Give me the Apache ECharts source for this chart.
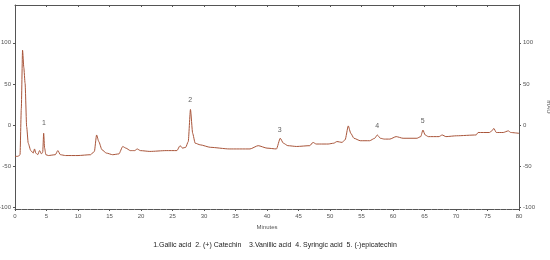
<!DOCTYPE html>
<html><head><meta charset="utf-8">
<script src="https://cdn.jsdelivr.net/npm/echarts@6/dist/echarts.min.js"></script>
<style>html,body{margin:0;padding:0;background:#fff}#c{width:550px;height:260px}</style>
</head><body><div id="c"></div>
<script>
// retention time (minutes)
const times = [
  0, 0.5, 0.8, 1.0, 1.2, 1.4, 1.6, 1.85, 2.1, 2.5,
  2.9, 3.1, 3.3, 3.6, 3.9, 4.2, 4.4, 4.55, 4.7, 4.9,
  5.3, 6.4, 6.8, 7.2, 8, 10, 12, 12.6, 12.95, 13.3,
  13.8, 14.5, 15.5, 16.5, 17.1, 17.6, 18.3, 19.0, 19.4, 19.9,
  21.4, 24, 25.7, 26.2, 26.6, 27.1, 27.5, 27.85, 28.2, 28.6,
  29.4, 31, 34, 37.3, 38.6, 40, 41.5, 42.1, 42.6, 43.3,
  44.7, 46.8, 47.3, 47.8, 48.4, 49.7, 50.6, 51.1, 51.9, 52.4,
  52.9, 53.3, 53.8, 54.8, 56.3, 57.1, 57.5, 58.0, 58.6, 59.5,
  60.5, 61.6, 63.8, 64.4, 64.75, 65.1, 65.6, 67.3, 67.8, 68.4,
  70.1, 73.2, 73.5, 75.3, 75.7, 76.0, 76.4, 77.5, 78.3, 78.7,
  80
];
// absorbance (mAU)
const absorbance = [
  -38, -38, -36, 20, 91, 70, 51, -2, -22, -31,
  -34, -29, -34, -36, -31, -35, -33, -10, -28, -36,
  -37, -36, -31, -36, -37, -37, -36, -32, -12, -20,
  -30, -34, -36, -35, -26, -28, -31, -31, -29, -31,
  -32, -31, -31, -25, -28, -27, -20, 19, -10, -22,
  -24, -27, -29, -29, -25, -28, -29, -16, -22, -25,
  -26, -25, -21, -23, -23, -23, -22, -20, -21, -18,
  -1, -10, -16, -19, -19, -16, -12, -16, -17, -17,
  -14, -16, -16, -14, -6, -12, -14, -14, -12, -14,
  -13, -12, -9, -9, -7, -4, -9, -9, -7, -9,
  -10
];
// peak annotations
const peakNames = ['1', '2', '3', '4', '5'];
const peakTimes = [4.6, 27.8, 42.0, 57.5, 64.7];
const peakLabelValues = [2, 31, -6, -1, 5];
// tick labels
const xTicks = [0, 5, 10, 15, 20, 25, 30, 35, 40, 45, 50, 55, 60, 65, 70, 75, 80];
const yTicks = [-100, -50, 0, 50, 100];
const legendText = '1.Gallic acid  2. (+) Catechin    3.Vanillic acid  4. Syringic acid  5. (-)epicatechin';

const chart = echarts.init(document.getElementById('c'), null, {renderer: 'canvas'});
const axisColor = '#555';
const labelStyle = {color: '#555', fontSize: 6, fontFamily: 'Arial, Liberation Sans, sans-serif'};
const lineData = times.map((t, i) => [t, absorbance[i]]);
const peakData = peakTimes.map((t, i) => ({value: [t, peakLabelValues[i]], name: peakNames[i]}));

chart.setOption({
  animation: false,
  backgroundColor: '#fff',
  title: {
    text: legendText,
    left: 'center', top: 237,
    textStyle: {fontSize: 7, fontWeight: 'normal', color: '#222', fontFamily: 'Arial, Liberation Sans, sans-serif'}
  },
  grid: {left: 15, right: 31, top: 5, bottom: 51, containLabel: false, outerBoundsMode: 'none'},
  xAxis: [{
    type: 'value', min: 0, max: 80, interval: 5,
    name: 'Minutes', nameLocation: 'middle', nameGap: 14,
    nameTextStyle: labelStyle,
    axisLine: {show: true, onZero: false, lineStyle: {color: axisColor, width: 1}},
    axisTick: {show: true, length: 2, lineStyle: {color: axisColor}},
    minorTick: {show: true, splitNumber: 5, length: 1, lineStyle: {color: '#888'}},
    axisLabel: Object.assign({margin: 4, customValues: xTicks}, labelStyle),
    splitLine: {show: false}
  }, {
    type: 'value', min: 0, max: 80, interval: 5, position: 'top',
    axisLine: {show: true, onZero: false, lineStyle: {color: axisColor, width: 1}},
    axisTick: {show: true, inside: true, length: 2, lineStyle: {color: axisColor}},
    axisLabel: {show: false},
    splitLine: {show: false}
  }],
  yAxis: [{
    type: 'value', min: -102, max: 146, position: 'left',
    axisLine: {show: true, onZero: false, lineStyle: {color: axisColor, width: 1}},
    axisTick: {show: true, length: 2, customValues: yTicks, lineStyle: {color: axisColor}},
    axisLabel: Object.assign({margin: 4, customValues: yTicks}, labelStyle),
    splitLine: {show: false}
  }, {
    type: 'value', min: -102, max: 146, position: 'right',
    name: 'mAU', nameLocation: 'middle', nameGap: 26, nameRotate: -90,
    nameTextStyle: labelStyle,
    axisLine: {show: true, onZero: false, lineStyle: {color: axisColor, width: 1}},
    axisTick: {show: true, length: 2, customValues: yTicks, lineStyle: {color: axisColor}},
    axisLabel: Object.assign({margin: 4, customValues: yTicks}, labelStyle),
    splitLine: {show: false}
  }],
  series: [{
    type: 'line', data: lineData, xAxisIndex: 0, yAxisIndex: 0,
    showSymbol: false, smooth: 0.2, smoothMonotone: 'x',
    lineStyle: {color: '#a9553a', width: 1},
    z: 3
  }, {
    type: 'scatter', data: peakData, xAxisIndex: 0, yAxisIndex: 0,
    symbolSize: 0,
    label: {show: true, position: 'inside', formatter: p => p.name, color: '#333', fontSize: 7, fontFamily: 'Arial, Liberation Sans, sans-serif'},
    z: 4
  }]
});
</script></body></html>
